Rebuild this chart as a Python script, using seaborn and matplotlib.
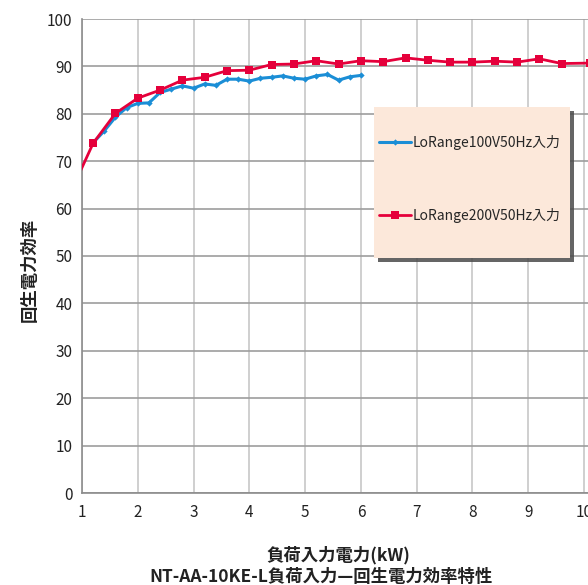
import matplotlib
matplotlib.use("Agg")
import matplotlib.pyplot as plt
import matplotlib.patches as mpatches
import seaborn as sns
import pandas as pd

# データ (読み取り値)
x_100v = [1.2, 1.4, 1.6, 1.8, 2.0, 2.2, 2.4, 2.6, 2.8, 3.0, 3.2, 3.4, 3.6,
          3.8, 4.0, 4.2, 4.4, 4.6, 4.8, 5.0, 5.2, 5.4, 5.6, 5.8, 6.0]
eff_100v = [73.9, 76.4, 79.3, 81.3, 82.2, 82.3, 84.5, 85.2, 85.9, 85.4, 86.3,
            86.0, 87.3, 87.3, 86.9, 87.5, 87.7, 88.0, 87.5, 87.3, 88.0, 88.3,
            87.1, 87.8, 88.1]

x_200v = [0.8, 1.2, 1.6, 2.0, 2.4, 2.8, 3.2, 3.6, 4.0, 4.4, 4.8, 5.2, 5.6,
          6.0, 6.4, 6.8, 7.2, 7.6, 8.0, 8.4, 8.8, 9.2, 9.6, 10.1]
eff_200v = [63.5, 73.8, 80.1, 83.3, 85.0, 87.1, 87.7, 89.1, 89.2, 90.4, 90.5,
            91.2, 90.5, 91.2, 91.0, 91.8, 91.3, 90.9, 90.9, 91.1, 90.9, 91.6,
            90.6, 90.7]

label_100v = "LoRange100V50Hz入力"
label_200v = "LoRange200V50Hz入力"
x_ticks = [1, 2, 3, 4, 5, 6, 7, 8, 9, 10]
y_ticks = [0, 10, 20, 30, 40, 50, 60, 70, 80, 90, 100]

df_100 = pd.DataFrame({"x": x_100v, "y": eff_100v})
df_200 = pd.DataFrame({"x": x_200v, "y": eff_200v})

sns.set_style("white")
plt.rcParams["font.family"] = ["Noto Sans CJK JP", "DejaVu Sans"]

W, H = 588, 585
fig = plt.figure(figsize=(W / 100, H / 100), dpi=100)
ax = fig.add_axes([82 / W, 1 - 493 / H, 1 - 82 / W, (493 - 19) / H])

blue = "#1B8ED6"
red = "#E5003B"

sns.lineplot(data=df_100, x="x", y="y", ax=ax, color=blue, linewidth=2.2,
             marker="D", markersize=3.2, markeredgewidth=0, label=label_100v,
             zorder=3)
sns.lineplot(data=df_200, x="x", y="y", ax=ax, color=red, linewidth=2.0,
             marker="s", markersize=6, markeredgewidth=0, label=label_200v,
             zorder=4)

ax.set_xlim(1, 10.072)
ax.set_ylim(0, 100)
ax.set_xticks(x_ticks)
ax.set_yticks(y_ticks)
ax.set_xlabel("")
ax.set_ylabel("")

# グリッド
ax.xaxis.grid(True, color="#cfcfcf", linewidth=1.4)
ax.yaxis.grid(True, color="#9d9d9d", linewidth=1.2)
ax.set_axisbelow(True)
for s in ["top", "right"]:
    ax.spines[s].set_visible(False)
for s in ["left", "bottom"]:
    ax.spines[s].set_color("#8c8c8c")
    ax.spines[s].set_linewidth(1.2)

ax.tick_params(axis="x", direction="in", length=3, color="#8c8c8c", pad=8,
               labelsize=11, labelcolor="#222222")
ax.tick_params(axis="y", direction="out", length=3, color="#8c8c8c", pad=4,
               labelsize=11, labelcolor="#222222")

# 凡例ボックス (影付き)
bx0, by0, bw, bh = 374, 258, 196, 151
shadow = mpatches.Rectangle(((bx0 + 4) / W, 1 - (by0 + 4) / H), bw / W, bh / H,
                            transform=fig.transFigure, facecolor="#4a4a4a",
                            edgecolor="none", alpha=0.85, zorder=4.9)
box = mpatches.Rectangle((bx0 / W, 1 - by0 / H), bw / W, bh / H,
                         transform=fig.transFigure, facecolor="#FCE8DA",
                         edgecolor="none", zorder=5)
fig.add_artist(shadow)
fig.add_artist(box)

handles, labels = ax.get_legend_handles_labels()
ax.get_legend().remove()
leg = fig.legend(handles, labels, loc="upper left",
                 bbox_to_anchor=(379 / W, 1 - 135 / H),
                 bbox_transform=fig.transFigure, frameon=False, fontsize=10,
                 handlelength=2.3, handletextpad=0.15, labelspacing=4.15,
                 borderpad=0, borderaxespad=0)
leg.set_zorder(6)

fig.text(30 / W, 1 - 270 / H, "回生電力効率", rotation=90, ha="center",
         va="center", fontsize=12.5, fontweight="bold", color="#222222")
fig.text(338 / W, 1 - 555 / H, "負荷入力電力(kW)", ha="center", va="center",
         fontsize=12.5, fontweight="bold", color="#222222")
fig.text(321 / W, 1 - 577 / H, "NT-AA-10KE-L負荷入力—回生電力効率特性",
         ha="center", va="center", fontsize=12.5, fontweight="bold",
         color="#222222")

fig.savefig("out.png", dpi=100)
